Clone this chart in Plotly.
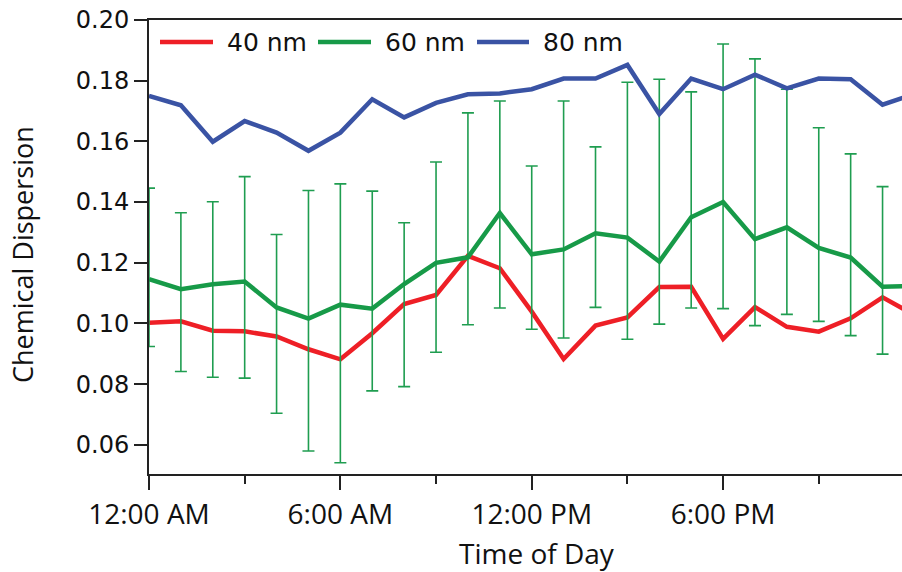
import plotly.graph_objects as go

# ---------------- data ----------------
hours = list(range(25))  # hour of day, 0..24
tick_hours = [0, 6, 12, 18]
tick_labels = ["12:00 AM", "6:00 AM", "12:00 PM", "6:00 PM"]

nm40 = [0.1002, 0.1007, 0.0976, 0.0974, 0.0957, 0.0915, 0.0882, 0.0968, 0.1064, 0.1094,
        0.1223, 0.1182, 0.1039, 0.0883, 0.0993, 0.1020, 0.1120, 0.1121, 0.0949, 0.1054,
        0.0989, 0.0973, 0.1017, 0.1086, 0.1028]
nm60 = [0.1146, 0.1113, 0.1129, 0.1138, 0.1053, 0.1016, 0.1062, 0.1049, 0.1130, 0.1200,
        0.1218, 0.1364, 0.1228, 0.1244, 0.1297, 0.1283, 0.1204, 0.1350, 0.1400, 0.1278,
        0.1317, 0.1249, 0.1217, 0.1121, 0.1124]
nm60_upper = [0.1446, 0.1365, 0.1401, 0.1484, 0.1293, 0.1438, 0.1460, 0.1436, 0.1332, 0.1532,
              0.1694, 0.1733, 0.1519, 0.1733, 0.1582, 0.1795, 0.1805, 0.1763, 0.1921, 0.1872,
              0.1772, 0.1645, 0.1559, 0.1451, 0.1124]
nm60_lower = [0.0924, 0.0842, 0.0823, 0.0820, 0.0704, 0.0580, 0.0541, 0.0778, 0.0792, 0.0905,
              0.0996, 0.1051, 0.0981, 0.0952, 0.1053, 0.0948, 0.0998, 0.1051, 0.1049, 0.0993,
              0.1030, 0.1007, 0.0960, 0.0899, 0.1124]
nm80 = [0.1750, 0.1719, 0.1599, 0.1667, 0.1629, 0.1569, 0.1629, 0.1739, 0.1679, 0.1727,
        0.1755, 0.1758, 0.1772, 0.1807, 0.1807, 0.1852, 0.1690, 0.1807, 0.1772, 0.1820,
        0.1775, 0.1807, 0.1805, 0.1721, 0.1756]

names = ["40 nm", "60 nm", "80 nm"]
colors = ["#ee1f26", "#179a48", "#3a53a4"]

# ---------------- figure ----------------
W, H = 902, 572
L, R, T, B = 149, 0, 20, 98
pw, ph = W - L - R, H - T - B


def px(x):
    return (x - L) / pw


def py(y):
    return (H - B - y) / ph


err_plus = [u - v for u, v in zip(nm60_upper, nm60)]
err_minus = [v - l for v, l in zip(nm60, nm60_lower)]

fig = go.Figure()
fig.add_trace(go.Scatter(x=hours, y=nm40, mode="lines", name=names[0],
                         line=dict(color=colors[0], width=4.5), showlegend=False))
fig.add_trace(go.Scatter(x=hours, y=nm60, mode="lines", name=names[1],
                         line=dict(color=colors[1], width=4.5), showlegend=False,
                         error_y=dict(type="data", array=err_plus, arrayminus=err_minus,
                                      symmetric=False, color="#1f9d50", thickness=1.6, width=6)))
fig.add_trace(go.Scatter(x=hours, y=nm80, mode="lines", name=names[2],
                         line=dict(color=colors[2], width=4.5), showlegend=False))

# custom legend (long line swatches like the reference)
legend_px = [(160, 213, 225), (318, 371, 383), (477, 529, 541)]
ly = 42
for (x0, x1, xt), nm, c in zip(legend_px, names, colors):
    fig.add_shape(type="line", xref="paper", yref="paper", x0=px(x0), x1=px(x1),
                  y0=py(ly), y1=py(ly), line=dict(color=c, width=4.5))
    fig.add_annotation(xref="paper", yref="paper", x=px(xt), y=py(ly), text=nm,
                       showarrow=False, xanchor="left", yanchor="middle",
                       font=dict(family="DejaVu Sans", size=25, color="#111111"))

# axis titles
fig.add_annotation(xref="paper", yref="paper", x=px(537), y=py(553), text="Time of Day",
                   showarrow=False, xanchor="center", yanchor="middle",
                   font=dict(family="Open Sans", size=28, color="#111111"))
fig.add_annotation(xref="paper", yref="paper", x=px(22), y=py(255), text="Chemical Dispersion",
                   showarrow=False, xanchor="center", yanchor="middle", textangle=-90,
                   font=dict(family="Open Sans", size=27, color="#111111"))

fig.update_layout(
    width=W, height=H,
    margin=dict(l=L, r=R, t=T, b=B, pad=0),
    paper_bgcolor="white", plot_bgcolor="white",
    showlegend=False,
    xaxis=dict(range=[0, 23.61], tickmode="array", tickvals=tick_hours, ticktext=tick_labels,
               ticks="outside", ticklen=14, tickwidth=1.5, tickcolor="#222222",
               showline=True, linecolor="#222222", linewidth=2, mirror=True,
               showgrid=False, zeroline=False,
               tickfont=dict(family="Open Sans", size=28, color="#111111"),
               minor=dict(tickmode="linear", tick0=0, dtick=3, ticks="outside", ticklen=8,
                          tickwidth=1.5, tickcolor="#222222", showgrid=False)),
    yaxis=dict(range=[0.0504, 0.20], tickmode="linear", tick0=0.06, dtick=0.02,
               tickformat=".2f",
               ticks="outside", ticklen=13, tickwidth=1.5, tickcolor="#222222",
               showline=True, linecolor="#222222", linewidth=2, mirror=False,
               showgrid=False, zeroline=False,
               tickfont=dict(family="DejaVu Sans", size=24, color="#111111")),
)

fig.write_html("out.html")
